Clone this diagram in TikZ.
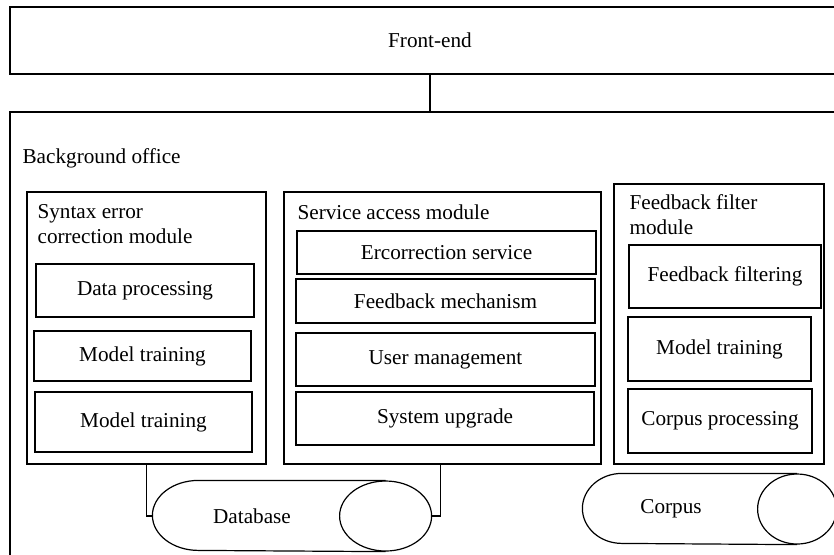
\documentclass[tikz,border=0pt]{standalone}
\usepackage{fontspec}
\setmainfont{Liberation Serif}
\usetikzlibrary{positioning,calc}

\tikzset{
    box/.style={draw, line width=0.6pt, inner sep=0pt},
    title/.style={anchor=north west, inner sep=0pt, align=left},
    store/.style={inner sep=0pt, minimum height=35pt},
}

\begin{document}
\begin{tikzpicture}[x=0.5pt, y=-0.5pt, font=\fontsize{10.6}{12.5}\selectfont, line width=0.6pt]
    \clip (0,0) rectangle (834,554);
    \fill[white] (0,0) rectangle (834,554);
    % front end and back office
    \node[box, minimum width=420pt, minimum height=33.5pt] (front) at (430,40.5) {Front-end};
    \node[box, minimum width=420pt, minimum height=244pt] (office) at (430,356) {};
    \node[title, anchor=west] (officetxt) at (22,158) {Background office};
    \draw (front.south) -- (office.north);

    % syntax error correction module
    \node[box, minimum width=119.5pt, minimum height=136pt] (syntax) at (146.5,328) {};
    \node[title] (syntaxtxt) at (37,204) {Syntax error\\correction module};
    \node[box, minimum width=109pt, minimum height=26.5pt] (dataproc) at (145,290.5) {Data processing};
    \node[box, minimum width=108.5pt, minimum height=25pt] (train1) at (142.5,356) {Model training};
    \node[box, minimum width=108.5pt, minimum height=30pt] (train2) at (143.5,422) {Model training};

    % service access module
    \node[box, minimum width=158.5pt, minimum height=136pt] (service) at (442.5,328) {};
    \node[title] (servicetxt) at (297,204) {Service access module};
    \node[box, minimum width=149.5pt, minimum height=21.5pt] (ercorr) at (446.5,252.5) {Ercorrection service};
    \node[box, minimum width=149.5pt, minimum height=22pt] (feedmech) at (445.5,301) {Feedback mechanism};
    \node[box, minimum width=149.5pt, minimum height=26.5pt] (usermgmt) at (445.5,359.5) {User management};
    \node[box, minimum width=149pt, minimum height=26.5pt] (upgrade) at (445,418.5) {System upgrade};

    % feedback filter module
    \node[box, minimum width=105pt, minimum height=140pt] (filter) at (719,324) {};
    \node[title] (filtertxt) at (629,194) {Feedback filter\\module};
    \node[box, minimum width=96pt, minimum height=31.5pt] (feedfilt) at (725,276.5) {Feedback filtering};
    \node[box, minimum width=91.5pt, minimum height=32pt] (train3) at (719.5,349) {Model training};
    \node[box, minimum width=92pt, minimum height=32pt] (corpproc) at (720,421) {Corpus processing};

    % database
    \node[store, minimum width=139pt] (db) at (292,516) {};
    \node (dbtxt) at (252,516) {Database};
    \draw ([xshift=-23pt]db.north east) -- ([xshift=23pt]db.north west)
        arc[start angle=90, end angle=270, x radius=23pt, y radius=17.5pt]
        -- ([xshift=-23pt]db.south east);
    \draw ([xshift=-23pt]db.east) ellipse [x radius=23pt, y radius=17.5pt];
    \draw (syntax.south) |- (db.west);
    \draw (db.east) -- ++(9,0) coordinate (dbhook) -- (dbhook |- service.south);

    % corpus
    \node[store, minimum width=126.5pt] (corpus) at (709.5,509) {};
    \node (corpustxt) at (671,509) {Corpus};
    \draw ([xshift=-19.75pt]corpus.north east) -- ([xshift=19.75pt]corpus.north west)
        arc[start angle=90, end angle=270, x radius=19.75pt, y radius=17.5pt]
        -- ([xshift=-19.75pt]corpus.south east);
    \draw ([xshift=-19.75pt]corpus.east) ellipse [x radius=19.75pt, y radius=17.5pt];
\end{tikzpicture}
\end{document}
